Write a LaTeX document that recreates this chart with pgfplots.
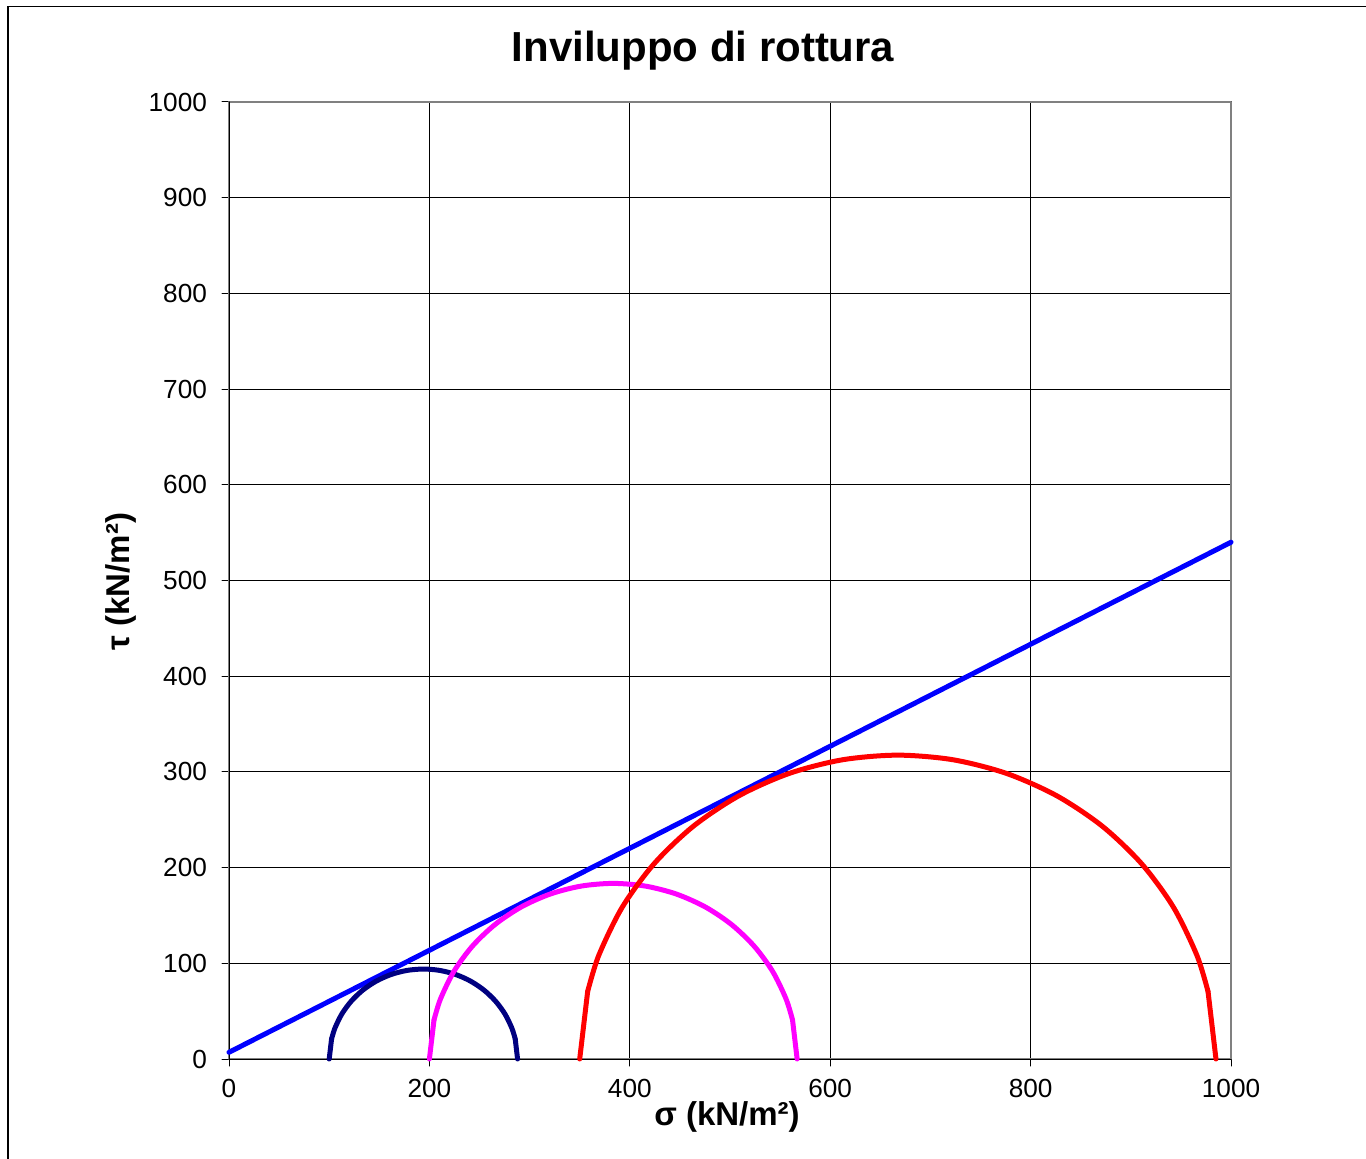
\documentclass[border=0pt]{standalone}
\usepackage{pgfplots}
\pgfplotsset{compat=1.18}
\usepackage{fontspec}
\setmainfont{Liberation Sans}
\definecolor{navyline}{RGB}{0,0,128}
\definecolor{envblue}{RGB}{0,0,255}
\definecolor{pinkline}{RGB}{255,0,255}
\definecolor{redline}{RGB}{255,0,0}
\definecolor{plotgray}{RGB}{128,128,128}

\begin{document}
\begin{tikzpicture}
\useasboundingbox (0pt,0pt) rectangle (683pt,-579.5pt);
% chart frame (only left and top edges visible)
\draw[line width=0.75pt] (4pt,-579.5pt) -- (4pt,-3.25pt) -- (683pt,-3.25pt);

\begin{axis}[
    at={(114.5pt,-529.5pt)}, anchor=south west,
    scale only axis, width=501pt, height=478.5pt,
    xmin=0, xmax=1000, ymin=0, ymax=1000,
    xtick={0,200,...,1000}, ytick={0,100,...,1000},
    grid=major,
    major grid style={black, line width=0.5pt},
    axis line style={plotgray, line width=1pt},
    tick pos=left, tick align=outside,
    major tick length=3.5pt,
    tick style={black, line width=0.5pt},
    /pgf/number format/assume math mode=true,
    /pgf/number format/1000 sep={},
    tick label style={font=\fontsize{13.1}{15}\selectfont},
    xticklabel style={yshift=-3pt},
    yticklabel style={xshift=-4pt},
    clip=false,
    line cap=round, line join=round,
    every axis plot/.append style={line width=2.5pt},
]
\draw[black, line width=0.5pt] (axis cs:0,0) -- (axis cs:1000,0);
\draw[black, line width=0.5pt] (axis cs:0,0) -- (axis cs:0,1000);

% envelope
\addplot[envblue] coordinates {(0,7) (1000,540)};

% circle 1
\addplot[navyline] coordinates {(100,0) (102.35,20.89)};
\addplot[navyline, smooth] coordinates {
    (102.35,20.89) (105.67,32.15) (112.59,47) (121.99,60.42) (133.58,72.01)
    (147,81.41) (161.85,88.33) (177.68,92.57) (194,94) (210.32,92.57)
    (226.15,88.33) (241,81.41) (254.42,72.01) (266.01,60.42) (275.41,47)
    (282.33,32.15) (285.65,20.89)
};
\addplot[navyline] coordinates {(285.65,20.89) (288,0)};

% circle 2
\addplot[pinkline] coordinates {(200,0) (204.59,40.77)};
\addplot[pinkline, smooth] coordinates {
    (204.59,40.77) (211.07,62.76) (224.58,91.75) (242.93,117.95) (265.55,140.57)
    (291.75,158.92) (320.74,172.43) (351.63,180.71) (383.5,183.5) (415.37,180.71)
    (446.26,172.43) (475.25,158.92) (501.45,140.57) (524.07,117.95) (542.42,91.75)
    (555.93,62.76) (562.41,40.77)
};
\addplot[pinkline] coordinates {(562.41,40.77) (567,0)};

% circle 3
\addplot[redline] coordinates {(350,0) (357.94,70.55)};
\addplot[redline, smooth] coordinates {
    (357.94,70.55) (369.15,108.59) (392.54,158.75) (424.28,204.09) (463.41,243.22)
    (508.75,274.96) (558.91,298.35) (612.37,312.68) (667.5,317.5) (722.63,312.68)
    (776.09,298.35) (826.25,274.96) (871.59,243.22) (910.72,204.09) (942.46,158.75)
    (965.85,108.59) (977.06,70.55)
};
\addplot[redline] coordinates {(977.06,70.55) (985,0)};
\end{axis}

\node[anchor=base, font=\fontsize{21}{25}\bfseries\selectfont] at (351.5pt,-31pt) {Inviluppo di rottura};
\node[anchor=base, font=\fontsize{16.5}{20}\bfseries\selectfont] at (363.5pt,-562.5pt) {σ (kN/m²)};
\node[anchor=base, rotate=90, font=\fontsize{16.5}{20}\bfseries\selectfont] at (64.75pt,-290.75pt) {τ (kN/m²)};
\end{tikzpicture}
\end{document}
